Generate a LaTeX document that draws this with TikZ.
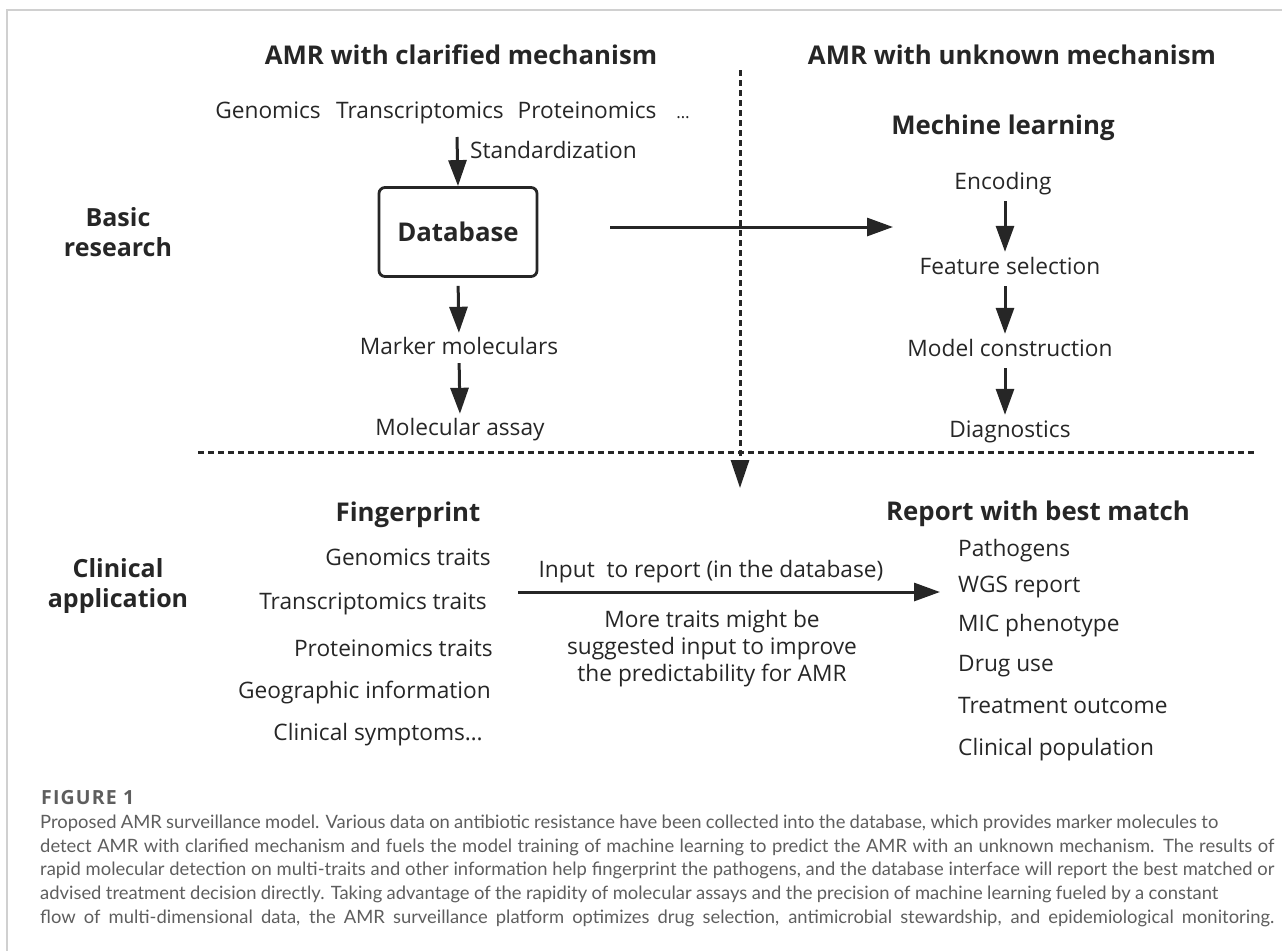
\documentclass[tikz,border=0pt]{standalone}
\usepackage{fontspec}
\setmainfont{Open Sans}
\newfontfamily\capfont{Lato}
\newfontfamily\fignofont[LetterSpace=6]{Open Sans}
\usetikzlibrary{arrows.meta}

\definecolor{ink}{HTML}{262626}
\definecolor{capgray}{HTML}{5E5E5E}
\definecolor{framegray}{HTML}{D0D0D0}

\tikzset{
  txt/.style={text=ink, font=\fontsize{22.7}{27}\selectfont, inner sep=0pt, text height=16pt, text depth=0pt},
  head/.style={text=ink, font=\fontsize{25.8}{30}\selectfont\bfseries, inner sep=0pt, text height=18pt, text depth=0pt},
  side/.style={text=ink, font=\fontsize{25}{30}\selectfont\bfseries, inner sep=0pt, align=center},
  flow/.style={draw=ink, line width=3pt, -{Triangle[length=26pt,width=18pt]}},
  sep/.style={draw=ink, line width=3pt, dash pattern=on 6pt off 4pt},
  capline/.style={text=capgray, font=\capfont\fontsize{18.4}{22}\selectfont, anchor=west, inner sep=0pt, text height=12pt, text depth=0pt}
}

\begin{document}
\begin{tikzpicture}[x=1pt, y=-1pt]
    \useasboundingbox (0,0) rectangle (1282,951);
    \draw[framegray, line width=1.5pt] (1282,10) -- (7,10) -- (7,951);

    % basic research part
    \node[head] (clar) at (461,55) {AMR with clarified mechanism};
    \node[head] (unkn) at (1012,55) {AMR with unknown mechanism};
    \node[side] (basic) at (118,232) {Basic\\research};
    \node[side] (clin) at (118,586) {Clinical\\application};

    \node[txt] (geno) at (268,110) {Genomics};
    \node[txt] (trans) at (420,110) {Transcriptomics};
    \node[txt] (prot) at (587,110) {Proteinomics};
    \node[txt] (more) at (683,110) {\fontsize{17}{18}\selectfont\ldots};
    \node[txt, anchor=west] (std) at (470,150) {Standardization};
    \coordinate (stdtop) at (457,137);

    \node[head, draw=ink, line width=2.8pt, rounded corners=6pt, minimum width=158pt, minimum height=89pt, text height=18pt] (db) at (458,232) {Database};
    \node[txt] (marker) at (459,346) {Marker moleculars};
    \node[txt] (assay) at (460,427) {Molecular assay};

    \draw[flow] (stdtop) -- (db.north);
    \draw[flow, shorten <=8pt, shorten >=5pt] (db.south) -- (marker.north);
    \draw[flow, shorten <=9pt, shorten >=5pt] (marker.south) -- (assay.north);

    % machine learning
    \node[head] (ml) at (1003,125) {Mechine learning};
    \node[txt] (enc) at (1003,181) {Encoding};
    \node[txt] (feat) at (1010,266) {Feature selection};
    \node[txt] (model) at (1010,348) {Model construction};
    \node[txt] (diag) at (1010,429) {Diagnostics};
    \coordinate (mlin) at (893,227);
    \draw[flow, shorten <=72pt] (db.east |- mlin) -- (mlin);
    \foreach \a/\b in {enc/feat, feat/model, model/diag}
      \draw[flow, shorten <=12pt, shorten >=6pt] (\a.south -| 1005,0) -- (\b.north -| 1005,0);

    % separators
    \coordinate (vtop) at (740,70);
    \coordinate (vend) at (740,488);
    \coordinate (hl) at (198,452);
    \coordinate (hr) at (1255,452);
    \draw[sep] (hl) -- (hr);
    \draw[sep, -{Triangle[length=28pt,width=18pt]}] (vtop) -- (vend);

    % clinical application
    \node[head] (fp) at (408,512) {Fingerprint};
    \foreach \t/\x/\y/\n in {Genomics traits/491/557/f1, Transcriptomics traits/487/601/f2,
        Proteinomics traits/493/648/f3, Geographic information/491/690/f4, Clinical symptoms\ldots/483/732/f5}
      \node[txt, anchor=east] (\n) at (\x,\y) {\t};

    \node[head] (rep) at (1038,511) {Report with best match};
    \foreach \t/\y/\n in {Pathogens/548/r1, WGS report/584/r2, MIC phenotype/623/r3,
        Drug use/663/r4, Treatment outcome/705/r5, Clinical population/747/r6}
      \node[txt, anchor=west] (\n) at (958,\y) {\t};

    \coordinate (inl) at (518,592);
    \coordinate (inr) at (940,592);
    \draw[flow] (inl) -- (inr);
    \node[txt] (inlab) at (711,569) {Input\ \ to report (in the database)};
    \node[text=ink, font=\fontsize{22.7}{27}\selectfont, inner sep=0pt, align=center] (hint) at (712,649)
      {More traits might be\\suggested input to improve\\the predictability for AMR};

    % caption
    \node[capline, font=\fignofont\bfseries\fontsize{19.5}{22}\selectfont, text height=14pt] (figno) at (41,797) {FIGURE 1};
    \node[capline] (c1) at (40,822) {\makebox[1178pt][s]{Proposed AMR surveillance model. Various data on antibiotic resistance have been collected into the database, which provides marker molecules to}};
    \node[capline] (c2) at (40,846) {\makebox[1234pt][s]{detect AMR with clarified mechanism and fuels the model training of machine learning to predict the AMR with an unknown mechanism. The results of}};
    \node[capline] (c3) at (40,869) {\makebox[1234pt][s]{rapid molecular detection on multi-traits and other information help fingerprint the pathogens, and the database interface will report the best matched or}};
    \node[capline] (c4) at (40,893) {\makebox[1178pt][s]{advised treatment decision directly. Taking advantage of the rapidity of molecular assays and the precision of machine learning fueled by a constant}};
    \node[capline] (c5) at (40,917) {\makebox[1234pt][s]{flow of multi-dimensional data, the AMR surveillance platform optimizes drug selection, antimicrobial stewardship, and epidemiological monitoring.}};
\end{tikzpicture}
\end{document}
